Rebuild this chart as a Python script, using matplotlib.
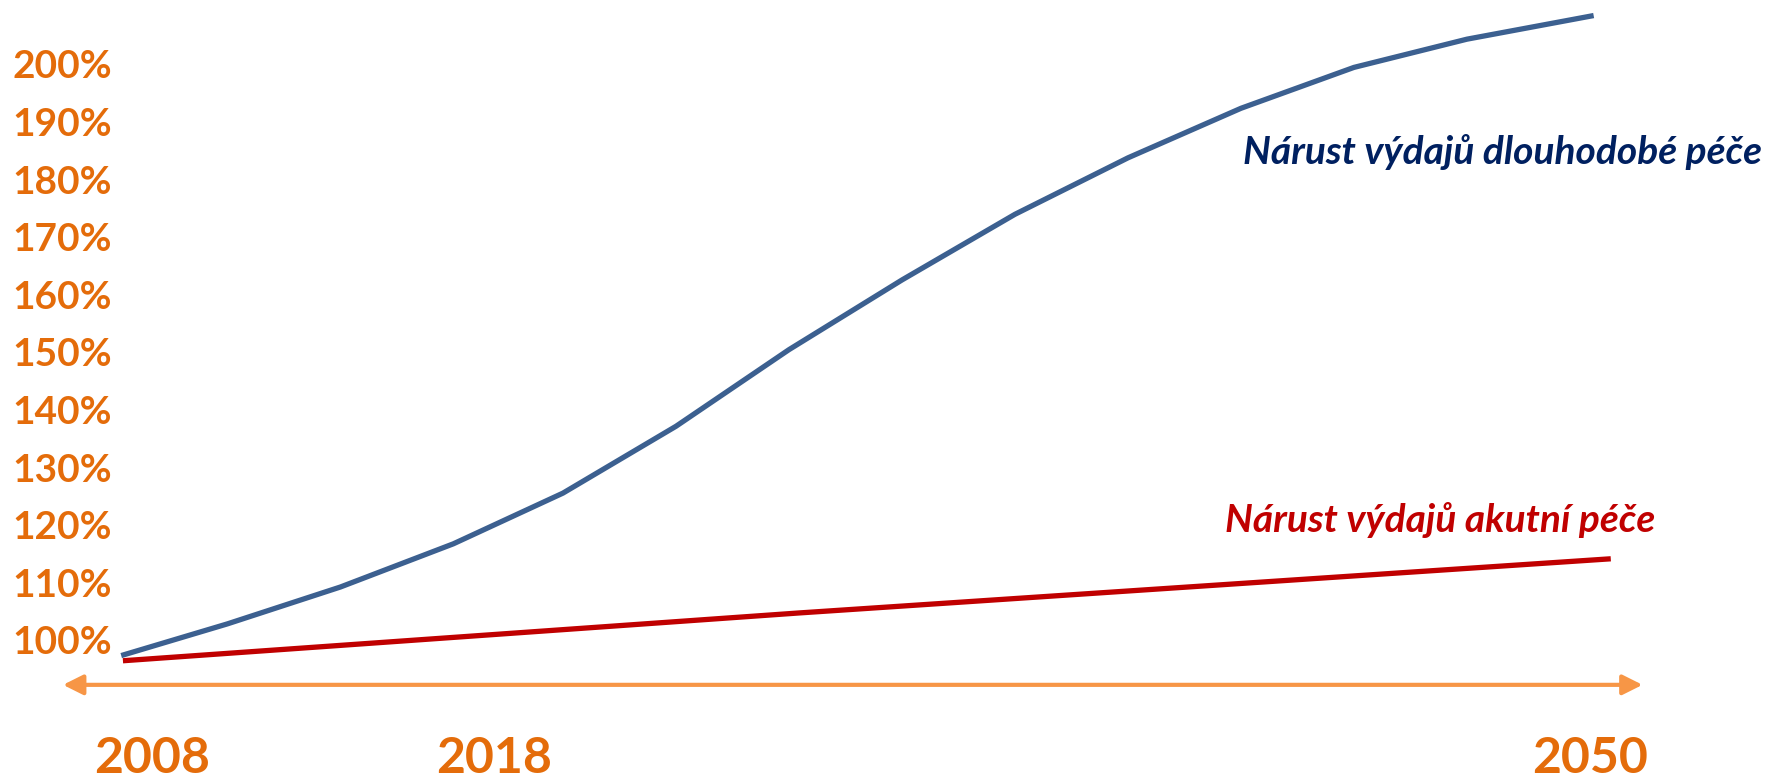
import matplotlib.pyplot as plt
import numpy as np

# values (year, % of 2008 spending)
years_long = [2007.1, 2010.2, 2013.5, 2016.8, 2020.0, 2023.3, 2026.6,
              2029.9, 2033.2, 2036.5, 2039.8, 2043.1, 2046.4, 2050.1]
long_care = [97.8, 103.3, 109.7, 117.2, 126.0, 137.6, 150.9,
             163.0, 174.4, 184.2, 192.8, 199.9, 204.8, 208.9]
years_acute = [2007.15, 2026.9, 2050.6]
acute_care = [96.9, 105.2, 114.6]

y_ticks = [100, 110, 120, 130, 140, 150, 160, 170, 180, 190, 200]
x_ticks = [2008, 2018, 2050]

label_long = 'Nárust výdajů dlouhodobé péče'
label_acute = 'Nárust výdajů akutní péče'

ORANGE = '#E46C0A'
ARROW = '#F79646'
BLUE = '#3C6090'
RED = '#C00000'
NAVY = '#002060'

plt.rcParams['font.family'] = ['Lato', 'DejaVu Sans']

fig = plt.figure(figsize=(17.7, 7.8), dpi=100)
ax = fig.add_axes([0, 0, 1, 1])
ax.set_xlim(2003.56, 2055.25)
ax.set_ylim(76.2, 211.6)
ax.axis('off')

ax.plot(years_long, long_care, color=BLUE, lw=3.8, solid_capstyle='butt',
        solid_joinstyle='round')
ax.plot(years_acute, acute_care, color=RED, lw=3.8, solid_capstyle='butt')

# y labels
trans_y = ax.get_yaxis_transform()
for v in y_ticks:
    ax.text(0.035, v, f'{v}%', transform=trans_y, ha='center', va='center',
            fontsize=28, fontweight='bold', color=ORANGE)

# x labels
trans_x = ax.get_xaxis_transform()
for yr in x_ticks:
    ax.text(yr, 0.057, str(yr), transform=trans_x, ha='center', va='top',
            fontsize=36, fontweight='bold', color=ORANGE)

# double headed arrow along the time axis
ax.annotate('', xy=(0.928, 0.122), xytext=(0.0356, 0.122), xycoords='axes fraction',
            arrowprops=dict(arrowstyle='<|-|>', color=ARROW, lw=3, mutation_scale=30,
                            shrinkA=0, shrinkB=0))

ax.text(0.8486, 1 - 152 / 780, label_long, transform=ax.transAxes, ha='center', va='center',
        fontsize=28, fontweight='bold', style='italic', color=NAVY)
ax.text(0.8136, 1 - 520 / 780, label_acute, transform=ax.transAxes, ha='center', va='center',
        fontsize=28, fontweight='bold', style='italic', color=RED)

fig.savefig('out.png', dpi=100)
